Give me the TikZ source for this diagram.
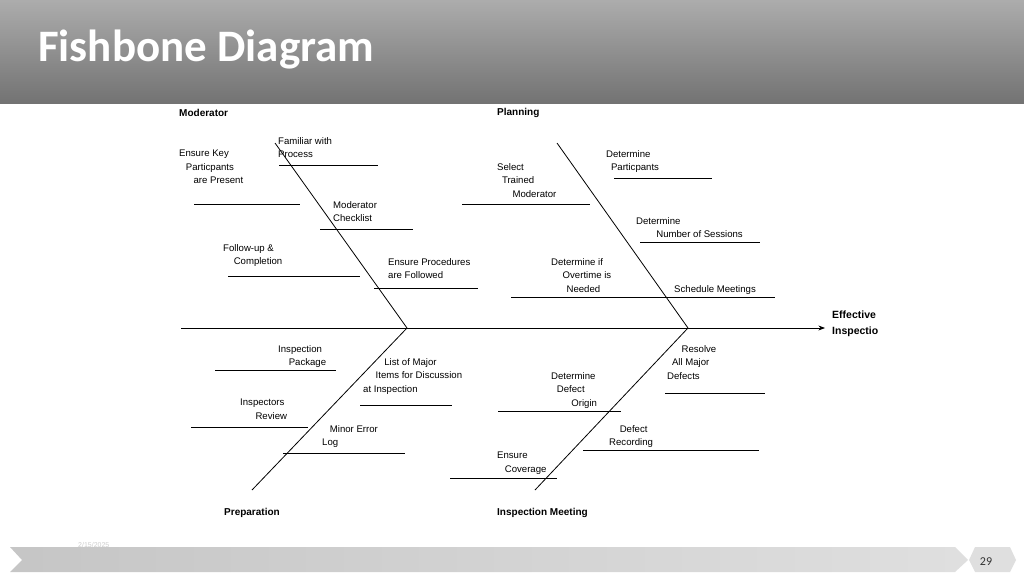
\documentclass[tikz,border=0pt]{standalone}
\usepackage{fontspec}
\setmainfont{Liberation Sans}
\newfontfamily\titlefont{Carlito}
\usetikzlibrary{arrows.meta}
\begin{document}
\begin{tikzpicture}[x=1pt,y=-1pt,
                    >=Stealth,
                    bone/.style={line width=0.8pt},
                    twig/.style={line width=0.6pt},
                    lbl/.style={font=\fontsize{9.6}{13.5}\selectfont, align=left, inner sep=0pt, anchor=north west},
                    head/.style={font=\fontsize{10}{12}\selectfont\bfseries, inner sep=0pt, anchor=west}
            ]
    \useasboundingbox (0,0) rectangle (1024,576);
    % header band
    \shade[top color=gray!65, bottom color=gray!90!black] (0,0) rectangle (1024,103);
    \node[font=\titlefont\fontsize{45}{48}\selectfont\bfseries, text=white, anchor=west, inner sep=0pt] (title) at (38,50) {Fishbone Diagram};
    % footer
    \shade[left color=gray!45, right color=gray!25] (10,547) -- (955,547) -- (968,560) -- (955,572) -- (10,572) -- (22,560) -- cycle;
    \fill[gray!25] (975,547) -- (1010,547) -- (1016,560) -- (1010,572) -- (975,572) -- (969,560) -- cycle;
    \node[font=\titlefont\fontsize{12}{13}\selectfont, text=black!80] (page) at (986,562) {29};
    \node[font=\fontsize{7}{8}\selectfont, text=gray!40, anchor=west, inner sep=0pt] (date) at (78,545) {2/15/2025};
    % spine and bones
    \coordinate (tail) at (181,328);
    \coordinate (head) at (825,328);
    \coordinate (j1) at (407,328);
    \coordinate (j2) at (688,328);
    \coordinate (mt) at (275,143);
    \coordinate (pt) at (557,143);
    \coordinate (pb) at (252,490);
    \coordinate (ib) at (535,490);
    \draw[bone,->] (tail) -- (head);
    \draw[bone] (mt) -- (j1) -- (pb);
    \draw[bone] (pt) -- (j2) -- (ib);
    % effect
    \begin{scope}
        \clip (820,300) rectangle (877,350);
        \node[font=\fontsize{10.5}{16}\selectfont\bfseries, align=left, anchor=north west, inner sep=0pt] (effect) at (832,311) {Effective\\Inspection};
    \end{scope}
    % category heads
    \node[head] (moderator) at (179,113) {Moderator};
    \node[head] (planning) at (497,113) {Planning};
    \node[head] (preparation) at (224,513) {Preparation};
    \node[head] (meeting) at (497,513) {Inspection Meeting};
    % moderator twigs
    \draw[twig] (279,165) -- (378,165);
    \node[lbl] (familiar) at (278,137) {Familiar with\\Process};
    \draw[twig] (194,204) -- (300,204);
    \node[lbl] (keyppl) at (179,150) {Ensure Key\\\hspace*{0.7em}Particpants\\\hspace*{1.5em}are Present};
    \draw[twig] (320,229) -- (413,229);
    \node[lbl] (checklist) at (333,201) {Moderator\\Checklist};
    \draw[twig] (228,276) -- (360,276);
    \node[lbl] (followup) at (223,244) {Follow-up \&\\\hspace*{1.1em}Completion};
    \draw[twig] (374,288) -- (478,288);
    \node[lbl] (procedures) at (388,258) {Ensure Procedures\\are Followed};
    % planning twigs
    \draw[twig] (462,204) -- (590,204);
    \node[lbl] (selectmod) at (497,163) {Select\\\hspace*{0.5em}Trained\\\hspace*{1.6em}Moderator};
    \draw[twig] (614,178) -- (712,178);
    \node[lbl] (detpart) at (606,150) {Determine\\\hspace*{0.5em}Particpants};
    \draw[twig] (640,242) -- (760,242);
    \node[lbl] (detsess) at (636,217) {Determine\\\hspace*{2.1em}Number of Sessions};
    \draw[twig] (511,297) -- (664,297);
    \node[lbl] (overtime) at (551,258) {Determine if\\\hspace*{1.2em}Overtime is\\\hspace*{1.6em}Needed};
    \draw[twig] (662,297) -- (775,297);
    \node[lbl] (schedule) at (674,285) {Schedule Meetings};
    % preparation twigs
    \draw[twig] (215,370) -- (336,370);
    \node[lbl] (package) at (278,345) {Inspection\\\hspace*{1.1em}Package};
    \draw[twig] (360,405) -- (452,405);
    \node[lbl] (majoritems) at (363,358) {\hspace*{2.2em}List of Major\\\hspace*{1.3em}Items for Discussion\\at Inspection};
    \draw[twig] (191,427) -- (308,427);
    \node[lbl] (review) at (240,399) {Inspectors\\\hspace*{1.6em}Review};
    \draw[twig] (283,453) -- (405,453);
    \node[lbl] (minorlog) at (322,425) {\hspace*{0.8em}Minor Error\\Log};
    % meeting twigs
    \draw[twig] (665,393) -- (765,393);
    \node[lbl] (resolve) at (667,345) {\hspace*{1.5em}Resolve\\\hspace*{0.5em}All Major\\Defects};
    \draw[twig] (498,411) -- (621,411);
    \node[lbl] (origin) at (551,372) {Determine\\\hspace*{0.6em}Defect\\\hspace*{2.1em}Origin};
    \draw[twig] (583,450) -- (759,450);
    \node[lbl] (recording) at (609,425) {\hspace*{1.1em}Defect\\Recording};
    \draw[twig] (450,478) -- (557,478);
    \node[lbl] (coverage) at (497,452) {Ensure\\\hspace*{0.8em}Coverage};
\end{tikzpicture}
\end{document}
